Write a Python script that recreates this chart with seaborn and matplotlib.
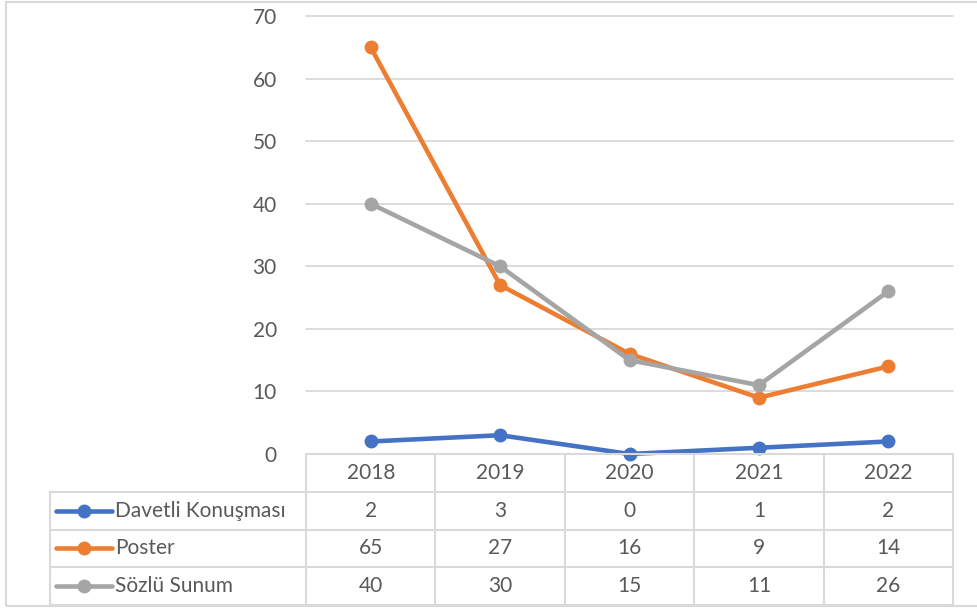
import numpy as np
import pandas as pd
import matplotlib
matplotlib.use("Agg")
import matplotlib.pyplot as plt
import seaborn as sns
from matplotlib.patches import Rectangle
from matplotlib.lines import Line2D

# Datos del gráfico
yillar = ["2018", "2019", "2020", "2021", "2022"]
seriler = ["Davetli Konuşması", "Poster", "Sözlü Sunum"]
davetli = [2, 3, 0, 1, 2]
poster = [65, 27, 16, 9, 14]
sozlu = [40, 30, 15, 11, 26]
renkler = ["#4472C4", "#ED7D31", "#A5A5A5"]
y_ticks = [0, 10, 20, 30, 40, 50, 60, 70]

degerler = {"Davetli Konuşması": davetli, "Poster": poster, "Sözlü Sunum": sozlu}

df = pd.DataFrame([
    {"Seri": s, "Yil": y, "pos": i, "Deger": v}
    for s in seriler for i, (y, v) in enumerate(zip(yillar, degerler[s]))
])

sns.set_style("white")
plt.rcParams["font.family"] = ["Lato", "DejaVu Sans"]

W, H = 978, 608
fig = plt.figure(figsize=(W / 100, H / 100), dpi=100)

def fx(px):
    return px / W

def fy(py):
    return 1 - py / H

grid_c = "#D9D9D9"
text_c = "#595959"
fs = 15

# Borde exterior del gráfico
fig.patches.append(Rectangle((fx(6.5), fy(605.5)), 1.2, fy(1.5) - fy(605.5),
                             transform=fig.transFigure, fill=False,
                             edgecolor=grid_c, linewidth=1.5))

# Área de trazado
ax_left, ax_right, ax_top, ax_bot = 306, 953, 16, 454
ax = fig.add_axes([fx(ax_left), fy(ax_bot), fx(ax_right - ax_left), fy(ax_top) - fy(ax_bot)])

for y in y_ticks[1:]:
    ax.axhline(y, color=grid_c, linewidth=1.3, zorder=0)

sns.lineplot(data=df, x="pos", y="Deger", hue="Seri", hue_order=seriler,
             palette=renkler, marker="o", markersize=10, markeredgewidth=0,
             linewidth=3.3, legend=False, ax=ax, zorder=3)

ax.set_xlim(-0.5, len(yillar) - 0.5)
ax.set_ylim(0, 70)
ax.set_yticks(y_ticks)
ax.set_yticklabels([str(t) for t in y_ticks])
ax.tick_params(axis="y", length=0, pad=21, labelsize=fs, labelcolor=text_c)
ax.set_xticks([])
ax.set_xlabel("")
ax.set_ylabel("")
for sp in ax.spines.values():
    sp.set_visible(False)
for line in ax.lines:
    line.set_clip_on(False)

# Tabla de datos debajo
tb_top, tb_bot, leg_left = 454, 605, 50
tax = fig.add_axes([fx(ax_left), fy(tb_bot), fx(ax_right - ax_left), fy(tb_top) - fy(tb_bot)])
tax.set_xlim(-0.5, len(yillar) - 0.5)
nrows = len(seriler) + 1
tax.set_ylim(nrows, 0)
tax.axis("off")

unit = (ax_right - ax_left) / len(yillar)
x_leg = -0.5 - (ax_left - leg_left) / unit
x_max = len(yillar) - 0.5

def tl(x, y, **kw):
    tax.add_line(Line2D(x, y, color=grid_c, linewidth=1.5, clip_on=False, **kw))

# líneas horizontales
tl([-0.5, x_max], [0, 0])
for r in range(1, nrows + 1):
    tl([x_leg, x_max], [r, r])
# líneas verticales
for k in range(len(yillar) + 1):
    tl([-0.5 + k, -0.5 + k], [0, nrows])
tl([x_leg, x_leg], [1, nrows])

for i, y in enumerate(yillar):
    tax.text(i, 0.5, y, ha="center", va="center", fontsize=fs, color=text_c)

for r, (s, c) in enumerate(zip(seriler, renkler), start=1):
    for i, v in enumerate(degerler[s]):
        tax.text(i, r + 0.5, str(v), ha="center", va="center", fontsize=fs, color=text_c)
    x0 = x_leg + (56 - leg_left) / unit
    x1 = x_leg + (112 - leg_left) / unit
    tax.add_line(Line2D([x0, x1], [r + 0.5, r + 0.5], color=c, linewidth=3.3,
                        solid_capstyle="round", clip_on=False))
    tax.add_line(Line2D([(x0 + x1) / 2], [r + 0.5], color=c, marker="o",
                        markersize=10, markeredgewidth=0, clip_on=False))
    tax.text(x_leg + (115 - leg_left) / unit, r + 0.5, s, ha="left", va="center",
             fontsize=fs, color=text_c)

fig.savefig("out.png", dpi=100)
